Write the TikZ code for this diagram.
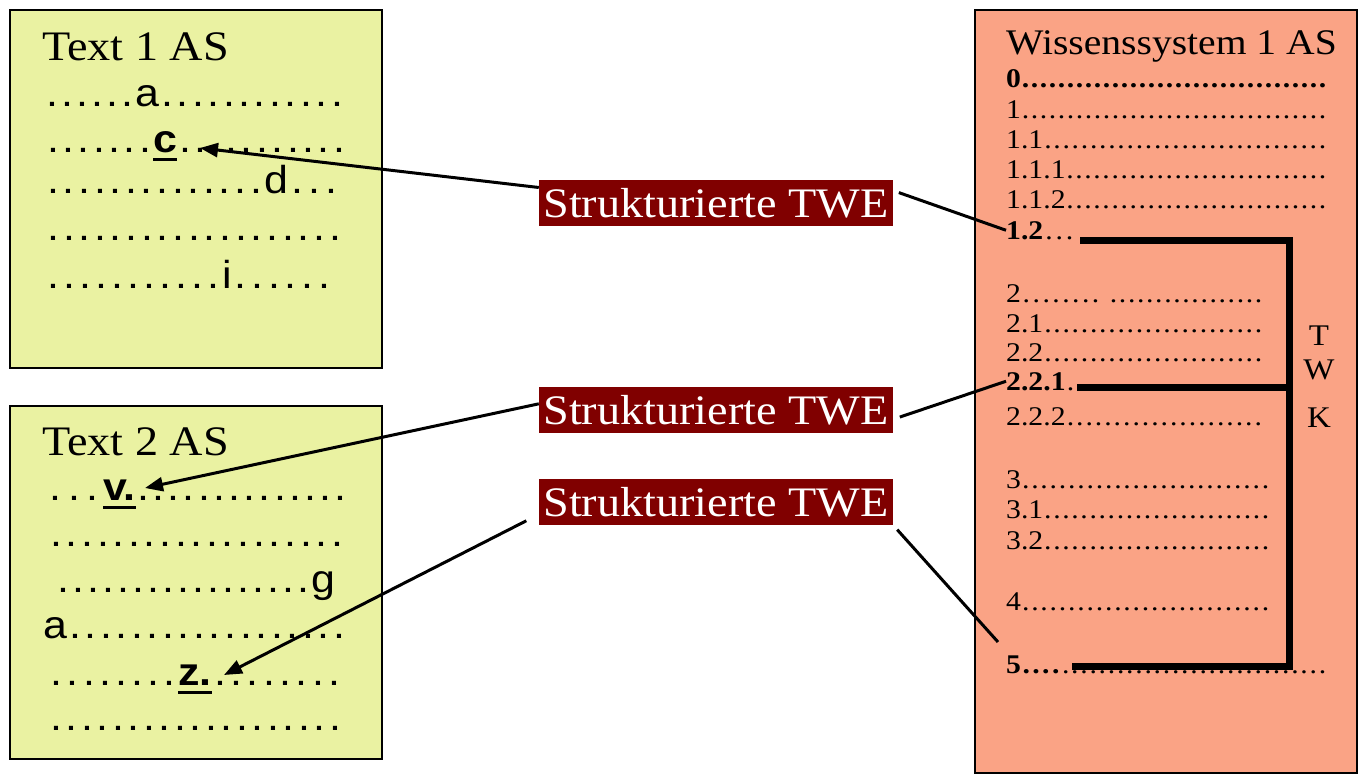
\documentclass[tikz,border=0pt]{standalone}
\usepackage{fontspec}
\setmainfont{Liberation Serif}[FakeStretch=1.1]
\setsansfont{Liberation Sans}[FakeStretch=1.1]
\usetikzlibrary{arrows.meta}

\definecolor{textbg}{RGB}{234,242,162}
\definecolor{sysbg}{RGB}{250,163,133}
\definecolor{twebg}{RGB}{128,0,0}

% dotted runs: spacing \dsp, fixed length or filling the rest of the line
\newlength\dsp
\newcommand\dotchar{.}
\newcommand\dl[1]{\xleaders\hbox to\dsp{\hss\dotchar\hss}\hskip #1\relax}
\newcommand\dfill{\xleaders\hbox to\dsp{\hss\dotchar\hss}\hfill}
\newcommand\ulw[1]{\setbox0\hbox{#1}\rlap{\rule[-9pt]{\wd0}{3pt}}\box0}

\tikzset{
  every node/.style={inner sep=0pt},
  textbox/.style={draw=black, line width=2pt, fill=textbg},
  sysbox/.style={draw=black, line width=2pt, fill=sysbg},
  title/.style={anchor=base west, font=\fontsize{42}{48}\selectfont},
  systitle/.style={anchor=base west, font=\fontsize{36}{40}\selectfont},
  txtline/.style={anchor=base west,
    font={\sffamily\fontsize{39}{42}\selectfont\setlength\dsp{15pt}}},
  sysline/.style={anchor=base west, font={\fontsize{27}{30}\selectfont\setlength\dsp{9pt}}},
  twe/.style={fill=twebg, text=white, minimum height=46pt, minimum width=354pt,
              font=\fontsize{42}{48}\selectfont},
  twk/.style={font=\fontsize{30}{34}\selectfont},
  conn/.style={line width=3pt, black},
  arr/.style={conn, -{Triangle[length=18pt,width=14pt]}},
  bracket/.style={line width=7pt, black, line join=miter}
}

\begin{document}
\begin{tikzpicture}[x=1pt, y=-1pt]
\useasboundingbox (0,0) rectangle (1359,779);

% the two text panels and the knowledge system panel
\draw[textbox] (10,10) rectangle (382,368);
\draw[textbox] (10,406) rectangle (382,759);
\draw[sysbox] (975,10) rectangle (1357,773);

% Text 1
\node[title] (h1) at (42,60) {Text 1 AS};
\node[txtline] (a1) at (45,106) {\hbox to 300pt{\dl{90pt}a\dfill}};
\node[txtline] (a2) at (45,152) {\hbox to 302pt{\dl{108pt}\ulw{\bfseries c}\dfill}};
\node[txtline] (a3) at (45,193) {\hbox to 296pt{\dl{219pt}d\dfill}};
\node[txtline] (a4) at (45,240) {\hbox to 298pt{\dfill}};
\node[txtline] (a5) at (45,288) {\hbox to 288pt{\dl{177pt}i\dfill}};

% Text 2
\node[title] (h2) at (42,455) {Text 2 AS};
\node[txtline] (b1) at (45,500) {\hbox to 303pt{\dl{58pt}\ulw{\bfseries v.}\dfill}};
\node[txtline] (b2) at (48,546) {\hbox to 297pt{\dfill}};
\node[txtline] (b3) at (56,592) {\dl{255pt}g};
\node[txtline] (b4) at (43,638) {\hbox to 304pt{a\dfill}};
\node[txtline] (b5) at (48,685) {\hbox to 295pt{\dl{130pt}\ulw{\bfseries z.}\dfill}};
\node[txtline] (b6) at (48,730) {\hbox to 295pt{\dfill}};

% Wissenssystem
\node[systitle] (hs) at (1006,54) {Wissenssystem 1 AS};
\node[sysline] (l0)   at (1006,87)  {\hbox to 321pt{\bfseries 0\dfill}};
\node[sysline] (l1)   at (1006,118) {\hbox to 321pt{1\dfill}};
\node[sysline] (l11)  at (1006,148) {\hbox to 321pt{1.1\dfill}};
\node[sysline] (l111) at (1006,178) {\hbox to 321pt{1.1.1\dfill}};
\node[sysline] (l112) at (1006,208) {\hbox to 321pt{1.1.2\dfill}};
\node[sysline] (l12)  at (1006,239) {\hbox to 69pt{\textbf{1.2}\dfill}};
\node[sysline] (l2)   at (1006,302) {\hbox to 257pt{2\hbox to 80pt{\dfill}\hskip 8pt\dfill}};
\node[sysline] (l21)  at (1006,332) {\hbox to 257pt{2.1\dfill}};
\node[sysline] (l22)  at (1006,361) {\hbox to 257pt{2.2\dfill}};
\node[sysline] (l221) at (1006,390) {\hbox to 257pt{\textbf{2.2.1}\dfill}};
\node[sysline] (l222) at (1006,425) {\hbox to 257pt{2.2.2\dfill}};
\node[sysline] (l3)   at (1006,488) {\hbox to 264pt{3\dfill}};
\node[sysline] (l31)  at (1006,518) {\hbox to 264pt{3.1\dfill}};
\node[sysline] (l32)  at (1006,549) {\hbox to 264pt{3.2\dfill}};
\node[sysline] (l4)   at (1006,610) {\hbox to 264pt{4\dfill}};
\node[sysline] (l5)   at (1006,673) {\hbox to 321pt{\bfseries 5\hbox to 40pt{\dfill}\mdseries\dfill}};

\node[twk] (kT) at (1319,336) {T};
\node[twk] (kW) at (1319,370) {W};
\node[twk] (kK) at (1319,418) {K};

% bracket spanning 1.2 to 5
\coordinate (br1) at (1080,240);
\coordinate (br2) at (1289,240);
\coordinate (br3) at (1289,666);
\coordinate (br4) at (1072,666);
\coordinate (brm) at (1077,387);
\coordinate (brm2) at (1289,387);
\draw[bracket] (br1) -- (br2) -- (br3) -- (br4);
\draw[bracket] (brm) -- (brm2);

% structured units
\node[twe] (t1) at (716,203) {Strukturierte TWE};
\node[twe] (t2) at (716,410) {Strukturierte TWE};
\node[twe] (t3) at (716,502) {Strukturierte TWE};

% arrow targets in the texts and free end near 5
\coordinate (cpt) at (200,148);
\coordinate (vpt) at (145,488);
\coordinate (zpt) at (224,675);
\coordinate (fiveend) at (998,642);

\draw[arr] (t1.175) -- (cpt);
\draw[conn, shorten <=6pt] (t1.4) -- (l12.west);
\draw[arr] (t2.178) -- (vpt);
\draw[conn, shorten <=7pt] (t2.357) -- (l221.west);
\draw[arr, shorten <=14pt] (t3.184) -- (zpt);
\draw[conn, shorten <=6pt] (t3.south east) -- (fiveend);
\end{tikzpicture}
\end{document}
